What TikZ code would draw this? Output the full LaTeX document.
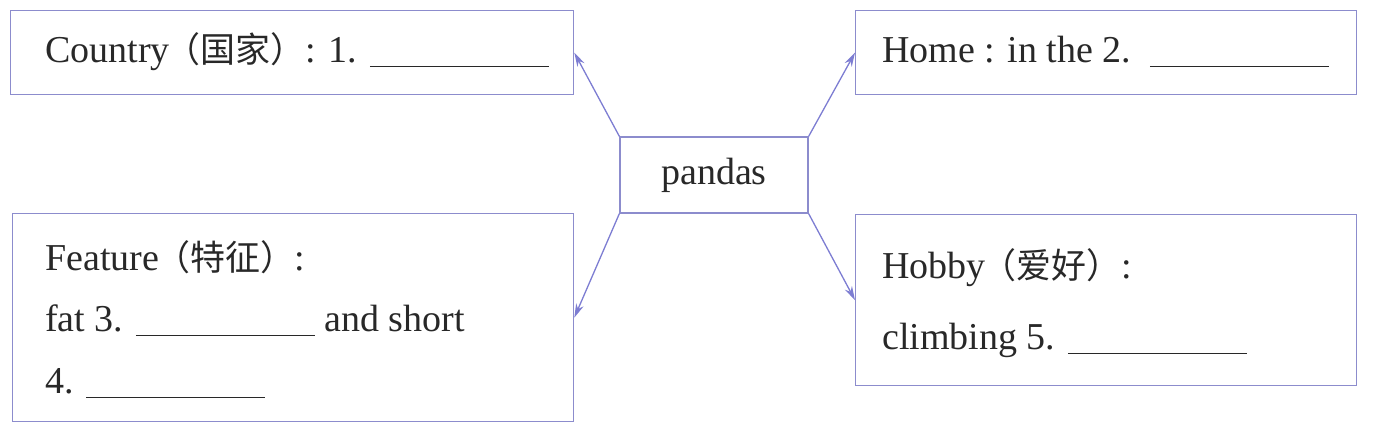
\documentclass[tikz,border=0pt]{standalone}
\usepackage{fontspec}
\setmainfont{Liberation Serif}
\newfontfamily\cjk[Scale=0.92]{Noto Sans CJK SC}
\usetikzlibrary{arrows.meta}
\definecolor{boxc}{RGB}{140,140,205}
\definecolor{arrc}{RGB}{125,125,210}
\definecolor{txt}{RGB}{40,40,40}
\tikzset{
  box/.style={draw=boxc, line width=1.3pt, inner sep=0pt, anchor=north west},
  lbl/.style={anchor=base west, inner sep=0pt, text=txt, font=\fontsize{38}{40}\selectfont},
  arr/.style={draw=arrc, line width=1.3pt, -{Stealth[length=14pt,width=8pt]}},
}
\newcommand{\blankline}{\rule[-5pt]{179pt}{1pt}}
\newcommand{\cjkp}[1]{\kern-4pt{\cjk（#1）}}
\begin{document}
\begin{tikzpicture}[x=1pt,y=-1pt]
\useasboundingbox (0,0) rectangle (1388,432);
% boxes
\node[box, minimum width=563pt, minimum height=84pt] (tl) at (10,10) {};
\node[box, minimum width=501pt, minimum height=84pt] (tr) at (855,10) {};
\node[box, minimum width=188pt, minimum height=76pt, anchor=center, text=txt, font=\fontsize{38}{40}\selectfont] (c) at (714,175) {pandas};
\node[box, minimum width=561pt, minimum height=208pt] (bl) at (12,213) {};
\node[box, minimum width=501pt, minimum height=171pt] (br) at (855,214) {};
% texts
\node[lbl] (t1) at (45,62) {Country\cjkp{国家}: 1. \blankline};
\node[lbl] (t2) at (882,62) {Home : in the 2.\kern6pt{} \blankline};
\node[lbl] (t3) at (45,270) {Feature\cjkp{特征}:};
\node[lbl] (t4) at (45,331) {fat 3. \blankline{} and short};
\node[lbl] (t5) at (45,393) {4. \blankline};
\node[lbl] (t6) at (882,278) {Hobby\cjkp{爱好}:};
\node[lbl] (t7) at (882,349) {climbing 5. \blankline};
% connectors
\draw[arr] (c.north west) -- (tl.east);
\draw[arr] (c.north east) -- (tr.west);
\draw[arr] (c.south west) -- (bl.east);
\draw[arr] (c.south east) -- (br.west);
\end{tikzpicture}
\end{document}
